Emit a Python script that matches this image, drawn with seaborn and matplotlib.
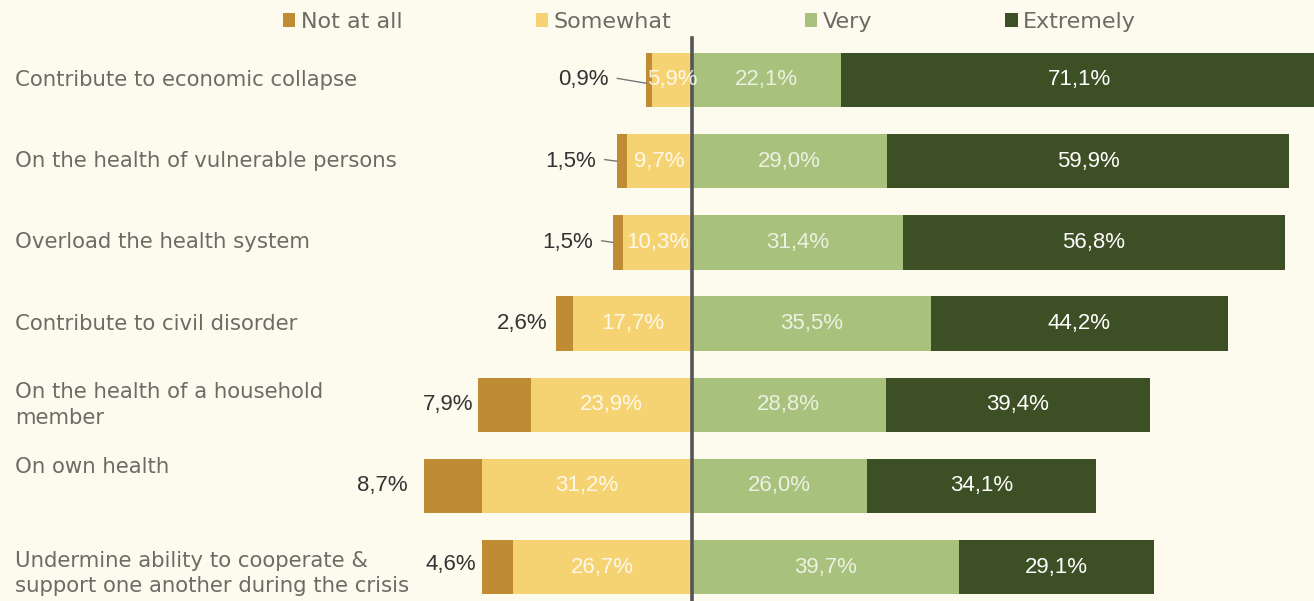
import matplotlib
matplotlib.use("Agg")
import matplotlib.pyplot as plt
import seaborn as sns
import pandas as pd
import numpy as np
from matplotlib.patches import Patch

categories = [
    "Contribute to economic collapse",
    "On the health of vulnerable persons",
    "Overload the health system",
    "Contribute to civil disorder",
    "On the health of a household\nmember",
    "On own health",
    "Undermine ability to cooperate &\nsupport one another during the crisis",
]
not_at_all = [0.9, 1.5, 1.5, 2.6, 7.9, 8.7, 4.6]
somewhat = [5.9, 9.7, 10.3, 17.7, 23.9, 31.2, 26.7]
very = [22.1, 29.0, 31.4, 35.5, 28.8, 26.0, 39.7]
extremely = [71.1, 59.9, 56.8, 44.2, 39.4, 34.1, 29.1]
series_names = ["Not at all", "Somewhat", "Very", "Extremely"]

colors = {"Not at all": "#BF8C33", "Somewhat": "#F6D372",
          "Very": "#A8C27E", "Extremely": "#3D4F24"}
bg = "#FDFAEE"
label_gray = "#6E6B66"

W, H = 1314, 601
fig = plt.figure(figsize=(W / 100, H / 100), dpi=100, facecolor=bg)
ax = fig.add_axes([0, 0, 1, 1])
ax.set_facecolor(bg)

df = pd.DataFrame({"cat": categories, "na": not_at_all, "sw": somewhat,
                   "vy": very, "ex": extremely})
df["left_total"] = -(df["na"] + df["sw"])
df["left_sw"] = -df["sw"]
df["right_total"] = df["vy"] + df["ex"]

bw = 0.67
common = dict(y="cat", data=df, orient="h", width=bw, saturation=1, ax=ax,
              linewidth=0, order=categories)
sns.barplot(x="left_total", color=colors["Not at all"], **common)
sns.barplot(x="left_sw", color=colors["Somewhat"], **common)
sns.barplot(x="right_total", color=colors["Extremely"], **common)
sns.barplot(x="vy", color=colors["Very"], **common)

px = 6.72  # pixels per percent
x0 = 692
ax.set_xlim(-x0 / px, (W - x0) / px)
row_px = 81.2
first_row = 80
ax.set_ylim((H - first_row) / row_px, -first_row / row_px)
ax.axis("off")

# centre line
ax.axvline(0, ymin=0, ymax=1 - 38 / H, color="#555555", lw=2.6, zorder=5)

def fmt(v):
    return f"{v:.1f}%".replace(".", ",")

num_font = dict(family="Liberation Sans", fontsize=16)

pads = [38, 21, 20, 8, 5, 16, 6]
leader = [True, True, True, False, False, False, False]
label_dy = [0, 0, 0, 0, 0, 0, -0.03]
for i in range(len(categories)):
    na, sw, vy, ex = not_at_all[i], somewhat[i], very[i], extremely[i]
    left_edge = -(na + sw)
    lx = left_edge - pads[i] / px
    ax.text(lx, i + label_dy[i], fmt(na), ha="right", va="center",
            color="#333333", **num_font, zorder=6)
    if leader[i]:
        ax.plot([lx + 9 / px, left_edge], [i - 0.02, i + 0.04 * (i == 0)],
                color="#777777", lw=1, zorder=6)
    ax.text(-sw / 2, i, fmt(sw), ha="center", va="center",
            color="#FFFFFF", alpha=0.85, **num_font, zorder=6)
    ax.text(vy / 2, i, fmt(vy), ha="center", va="center",
            color="#F4F6EC", alpha=0.9, **num_font, zorder=6)
    ax.text(vy + ex / 2, i, fmt(ex), ha="center", va="center",
            color="#FFFFFF", **num_font, zorder=6)

# category labels
cat_dy = [0, 0, 0, 0, 0, -0.24, 0.08]
for i, c in enumerate(categories):
    ax.text(-(x0 - 15) / px, i + cat_dy[i], c, ha="left", va="center",
            color=label_gray, fontsize=15.3, family="DejaVu Sans",
            linespacing=1.35)

handles = [Patch(facecolor=colors[n], edgecolor="none") for n in series_names]
fig.legend(handles, series_names, loc="center", bbox_to_anchor=(0.54, 1 - 22 / H),
           ncol=4, frameon=False, fontsize=16, handlelength=0.55,
           handleheight=0.55, handletextpad=0.25, columnspacing=6.0,
           labelcolor=label_gray)

fig.savefig("out.png", dpi=100, facecolor=bg)
